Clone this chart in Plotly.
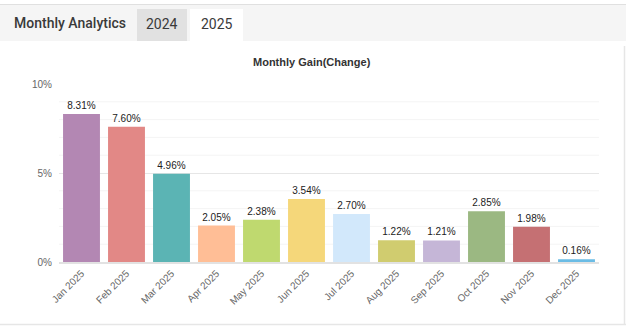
import plotly.graph_objects as go

months = ["Jan 2025", "Feb 2025", "Mar 2025", "Apr 2025", "May 2025", "Jun 2025",
          "Jul 2025", "Aug 2025", "Sep 2025", "Oct 2025", "Nov 2025", "Dec 2025"]
gains = [8.31, 7.60, 4.96, 2.05, 2.38, 3.54, 2.70, 1.22, 1.21, 2.85, 1.98, 0.16]
colors = ["#b387b3", "#e28886", "#5bb4b4", "#ffbe96", "#bfd96f", "#f5d77a",
          "#d2e8fb", "#d0cc6f", "#c5b6d7", "#9bb882", "#c57073", "#6bbce5"]
y_ticks = [0, 5, 10]
y_tick_labels = ["0%", "5%", "10%"]

W, H = 626, 326
L, R, T, B = 59, 599, 84, 262

def px(x):
    return (x - L) / (R - L)

def py(y):
    return (B - y) / (B - T)

fig = go.Figure()
fig.add_trace(go.Bar(
    x=months, y=gains, marker=dict(color=colors, line=dict(width=0)),
    text=[f"{v:.2f}%" for v in gains], textposition="outside",
    textfont=dict(family="Liberation Sans, Arial", size=10, color="#222"),
    cliponaxis=False, hoverinfo="skip"))

# minor gridlines
for v in range(1, 10):
    if v % 5 != 0:
        fig.add_shape(type="line", xref="paper", yref="y", x0=0, x1=1, y0=v, y1=v,
                      line=dict(color="#f4f4f4", width=1), layer="below")

shapes = [
    # header bar
    dict(type="rect", xref="paper", yref="paper", x0=px(-2), x1=px(W + 2), y0=py(41), y1=py(5),
         fillcolor="#f5f5f5", line=dict(width=0), layer="below"),
    dict(type="line", xref="paper", yref="paper", x0=px(0), x1=px(W), y0=py(4.5), y1=py(4.5),
         line=dict(color="#e0e0e0", width=1)),
    dict(type="rect", xref="paper", yref="paper", x0=px(137), x1=px(187), y0=py(41), y1=py(9),
         fillcolor="#e1e1e1", line=dict(width=0), layer="below"),
    dict(type="rect", xref="paper", yref="paper", x0=px(190), x1=px(243), y0=py(41), y1=py(9),
         fillcolor="#ffffff", line=dict(width=0), layer="below"),
    # panel borders
    dict(type="line", xref="paper", yref="paper", x0=px(624.5), x1=px(624.5), y0=py(46), y1=py(325),
         line=dict(color="#e6e6e6", width=1.5)),
    dict(type="line", xref="paper", yref="paper", x0=px(0), x1=px(W), y0=py(324.5), y1=py(324.5),
         line=dict(color="#e6e6e6", width=1.5)),
]
for s in shapes:
    fig.add_shape(**s)

anns = [
    dict(text="Monthly Analytics", x=px(12), y=py(23), xanchor="left",
         font=dict(family="Roboto", size=14, color="#3a3a3a", weight=500)),
    dict(text="2024", x=px(162), y=py(24), xanchor="center",
         font=dict(family="Roboto", size=14, color="#3a3a3a")),
    dict(text="2025", x=px(216.5), y=py(24), xanchor="center",
         font=dict(family="Roboto", size=14, color="#3a3a3a")),
    dict(text="<b>Monthly Gain(Change)</b>", x=px(312), y=py(62), xanchor="center",
         font=dict(family="Liberation Sans, Arial", size=11, color="#333")),
]
for a in anns:
    fig.add_annotation(xref="paper", yref="paper", yanchor="middle", showarrow=False, **a)

fig.update_layout(
    width=W, height=H, margin=dict(l=L, r=W - R, t=T, b=H - B, pad=0),
    paper_bgcolor="white", plot_bgcolor="white", showlegend=False, bargap=0.18,
    xaxis=dict(tickangle=-45, tickfont=dict(family="Liberation Sans, Arial", size=10, color="#666"),
               showgrid=False, showline=True, linecolor="#e2e2e2", linewidth=1.5, ticks="",
               fixedrange=True),
    yaxis=dict(range=[0, 10], tickvals=y_ticks, ticktext=y_tick_labels,
               tickfont=dict(family="Liberation Sans, Arial", size=10, color="#666"),
               showgrid=True, gridcolor="#e6e6e6", gridwidth=1, zeroline=False,
               ticks="outside", ticklen=4, tickcolor="rgba(0,0,0,0)", fixedrange=True),
)

fig.write_html("out.html")
